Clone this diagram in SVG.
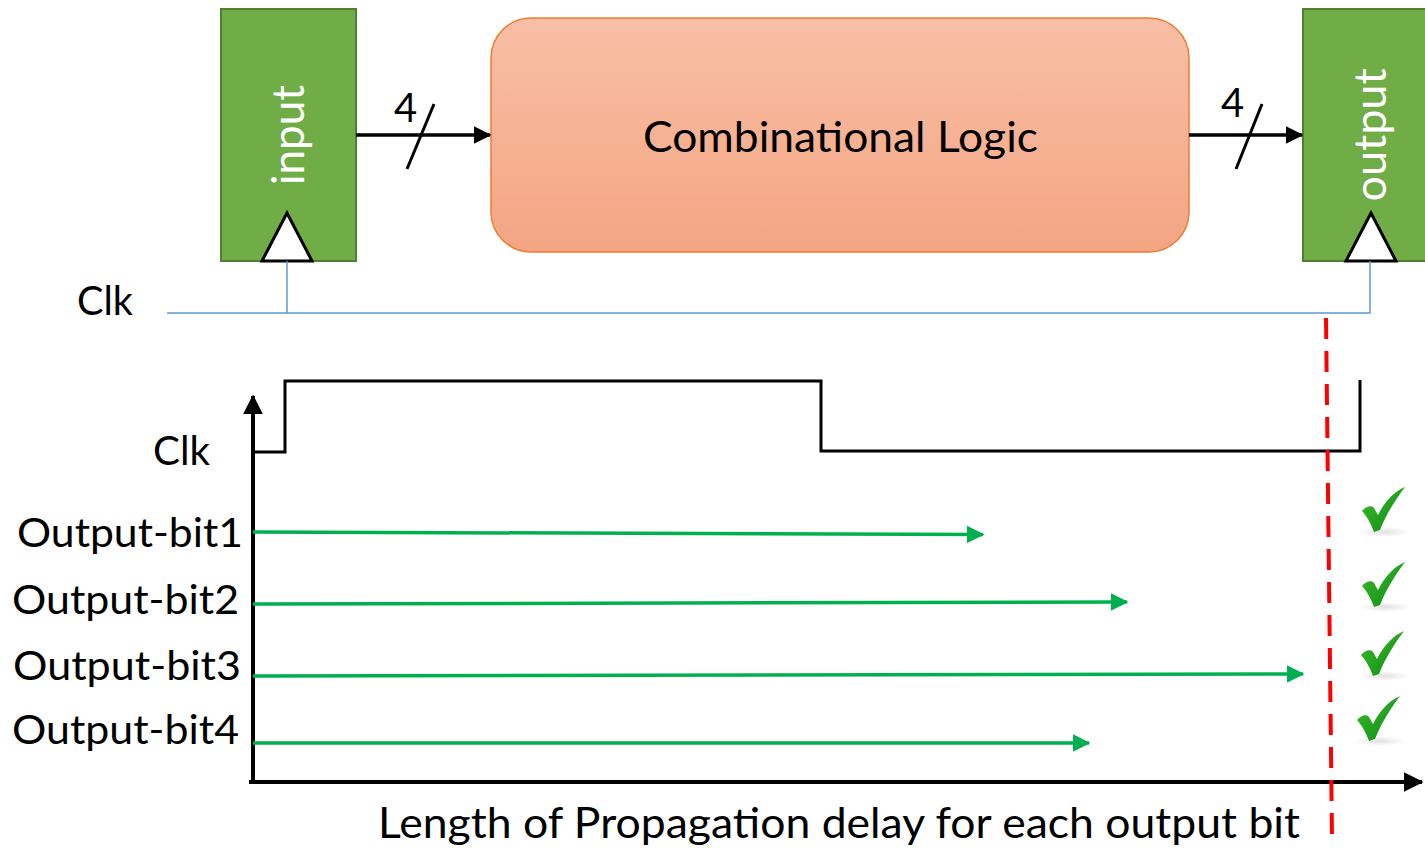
<svg xmlns="http://www.w3.org/2000/svg" width="1425" height="848" viewBox="0 0 1425 848">
<defs>
<style>
.lbl{font-family:Lato,"Open Sans","Liberation Sans",sans-serif;fill:#000}
.reg{fill:#70AD47;stroke:#507E32;stroke-width:2}
.clkTri{fill:#fff;stroke:#000;stroke-width:3}
.blue{fill:none;stroke:#5B9BD5;stroke-width:1.5}
.bus{stroke:#000;stroke-width:3.5;fill:none}
.green{stroke:#00B050;stroke-width:3.5;fill:none}
.axis{stroke:#000;stroke-width:4;fill:none}
</style>
<linearGradient id="logicGrad" x1="0" y1="0" x2="0" y2="1">
<stop offset="0" stop-color="#F8BFA6"/>
<stop offset="1" stop-color="#F4A583"/>
</linearGradient>
<linearGradient id="chkGrad" x1="0" y1="0" x2="1" y2="1">
<stop offset="0" stop-color="#3DBB2E"/>
<stop offset="1" stop-color="#0E8A12"/>
</linearGradient>
<radialGradient id="shadow" cx="0.5" cy="0.5" r="0.5">
<stop offset="0" stop-color="#000" stop-opacity="0.12"/>
<stop offset="1" stop-color="#000" stop-opacity="0"/>
</radialGradient>
<marker id="blackHead" markerWidth="5" markerHeight="5" refX="4.6" refY="2.5" orient="auto" markerUnits="strokeWidth" viewBox="0 0 5 5">
<path d="M0,0 L5,2.5 L0,5 Z" fill="#000"/>
</marker>
<marker id="greenHead" markerWidth="5" markerHeight="5" refX="4.6" refY="2.5" orient="auto" markerUnits="strokeWidth" viewBox="0 0 5 5">
<path d="M0,0 L5,2.5 L0,5 Z" fill="#00B050"/>
</marker>
<g id="check">
<ellipse cx="22" cy="44" rx="26" ry="5" fill="url(#shadow)"/>
<path d="M-1,23 C3,18 9,17 11,20 L15,27 C21,15 30,4 42,-1 C34,10 24,24 17,42 L11,44 C8,36 5,30 -1,23 Z" fill="url(#chkGrad)"/>
</g>
</defs>

<g id="input-register">
<rect class="reg" x="221" y="9" width="135" height="252"/>
<polygon class="clkTri" points="287,213 262,261 312,261"/>
<text class="lbl" transform="translate(304,135) rotate(-90)" font-size="44" text-anchor="middle" style="fill:#fff">input</text>
</g>

<g id="combinational-logic">
<rect x="491" y="18" width="698" height="234" rx="40" ry="40" fill="url(#logicGrad)" stroke="#ED7D31" stroke-width="1.5"/>
<text class="lbl" x="643" y="152" font-size="42" textLength="395" lengthAdjust="spacingAndGlyphs">Combinational Logic</text>
</g>

<g id="output-register">
<rect class="reg" x="1303" y="9" width="130" height="252"/>
<polygon class="clkTri" points="1371,213 1346,261 1396,261"/>
<text class="lbl" transform="translate(1386,135) rotate(-90)" font-size="45" text-anchor="middle" style="fill:#fff">output</text>
</g>

<g id="clk-label-top">
<text class="lbl" x="77" y="315" font-size="41" textLength="56" lengthAdjust="spacingAndGlyphs">Clk</text>
</g>

<g id="connectors">
<line class="bus" x1="356" y1="135" x2="490" y2="135" marker-end="url(#blackHead)"/>
<line x1="407" y1="169" x2="434" y2="104" stroke="#000" stroke-width="3"/>
<text class="lbl" x="394" y="122" font-size="40">4</text>
<line class="bus" x1="1189" y1="135" x2="1302" y2="135" marker-end="url(#blackHead)"/>
<line x1="1236" y1="169" x2="1262" y2="104" stroke="#000" stroke-width="3"/>
<text class="lbl" x="1221" y="117" font-size="40">4</text>
<polyline class="blue" points="167,313 1370,313 1370,261"/>
<line class="blue" x1="287" y1="261" x2="287" y2="313"/>
</g>

<g id="timing-chart">
<line class="axis" x1="253" y1="784" x2="253" y2="396" marker-end="url(#blackHead)"/>
<line class="axis" x1="249" y1="782" x2="1422" y2="782" marker-end="url(#blackHead)"/>
<polyline points="253,452 285,452 285,381 821,381 821,451 1360,451 1360,380" fill="none" stroke="#000" stroke-width="3"/>
<text class="lbl" x="153" y="465" font-size="41" textLength="57" lengthAdjust="spacingAndGlyphs">Clk</text>

<line class="green" x1="253" y1="532" x2="983" y2="534.5" marker-end="url(#greenHead)"/>
<line class="green" x1="253" y1="604" x2="1127" y2="602" marker-end="url(#greenHead)"/>
<line class="green" x1="253" y1="676" x2="1303" y2="674" marker-end="url(#greenHead)"/>
<line class="green" x1="253" y1="743" x2="1089" y2="743" marker-end="url(#greenHead)"/>

<text class="lbl" x="17" y="547" font-size="41" textLength="226" lengthAdjust="spacingAndGlyphs">Output-bit1</text>
<text class="lbl" x="12" y="614" font-size="41" textLength="227" lengthAdjust="spacingAndGlyphs">Output-bit2</text>
<text class="lbl" x="13" y="680" font-size="41" textLength="228" lengthAdjust="spacingAndGlyphs">Output-bit3</text>
<text class="lbl" x="12" y="744" font-size="41" textLength="227" lengthAdjust="spacingAndGlyphs">Output-bit4</text>

<line x1="1326" y1="318" x2="1332" y2="838" stroke="#FF0000" stroke-width="4" stroke-dasharray="21 12"/>

<use href="#check" x="1363" y="488"/>
<use href="#check" x="1363" y="563"/>
<use href="#check" x="1362" y="632"/>
<use href="#check" x="1358" y="697"/>

<text class="lbl" x="378" y="838" font-size="42" textLength="922" lengthAdjust="spacingAndGlyphs">Length of Propagation delay for each output bit</text>
</g>
</svg>
